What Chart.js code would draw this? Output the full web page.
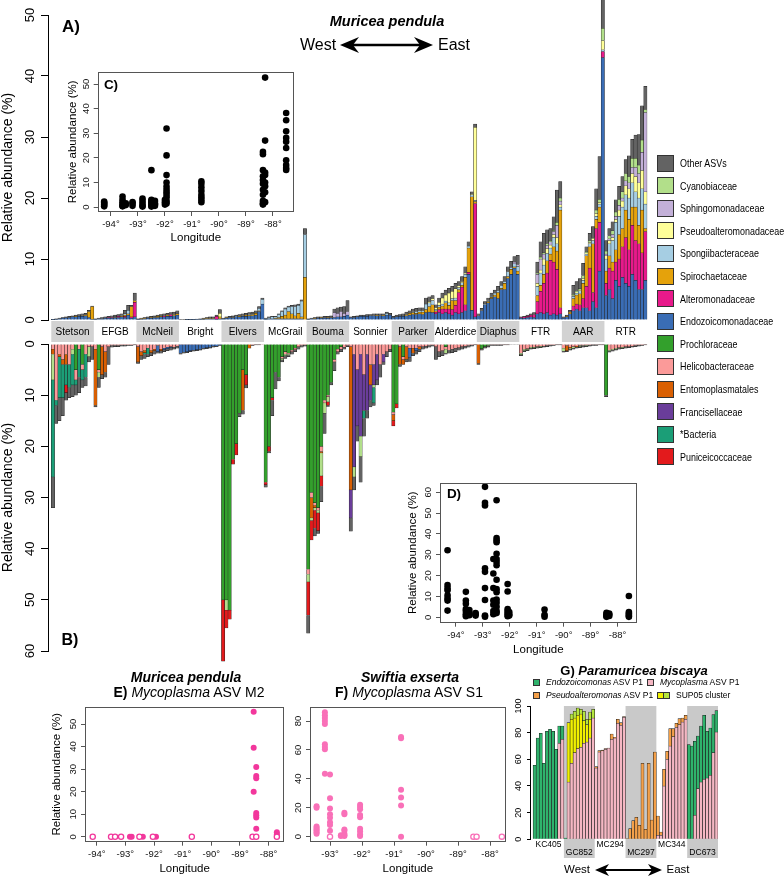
<!DOCTYPE html>
<html>
<head>
<meta charset="utf-8">
<script src="https://cdn.jsdelivr.net/npm/chart.js@4.4.1/dist/chart.umd.min.js"></script>
<style>
  body { margin: 0; background: #fff; font-family: "Liberation Sans", Arial, sans-serif; }
  #wrap { position: relative; width: 784px; height: 877px; overflow: hidden; }
  canvas, .t, .sq, svg { position: absolute; }
  .t { white-space: nowrap; color: #000; line-height: 1; transform: translate(-50%, -50%); }
  .l { white-space: nowrap; color: #000; line-height: 1; position: absolute; transform: translateY(-50%); }
  .sq { box-sizing: border-box; border: 1px solid #333; }
</style>
</head>
<body>
<div id="wrap">
  <canvas id="chartA" width="660" height="345" style="left:0;top:0"></canvas>
  <canvas id="chartB" width="660" height="340" style="left:0;top:332px"></canvas>
  <canvas id="chartC" width="234" height="180" style="left:66px;top:65px"></canvas>
  <canvas id="chartD" width="236" height="182" style="left:406px;top:476px"></canvas>
  <canvas id="chartE" width="240" height="177" style="left:50px;top:700px"></canvas>
  <canvas id="chartF" width="225" height="177" style="left:285px;top:700px"></canvas>
  <canvas id="chartG" width="230" height="187" style="left:500px;top:690px"></canvas>

  <div class="t" style="left:71px;top:26px;font-size:17px;font-weight:bold">A)</div>
  <div class="t" style="left:387px;top:21px;font-size:14.5px;font-weight:bold;font-style:italic">Muricea pendula</div>
  <div class="t" style="left:318px;top:45px;font-size:16px">West</div>
  <div class="t" style="left:454px;top:45px;font-size:16px">East</div>
  <div class="t" style="left:70px;top:640px;font-size:16px;font-weight:bold">B)</div>
  <div class="t" style="left:111px;top:85px;font-size:13.5px;font-weight:bold">C)</div>
  <div class="t" style="left:454px;top:494px;font-size:13.5px;font-weight:bold">D)</div>

  <div class="t" style="left:186px;top:677px;font-size:14px;font-weight:bold;font-style:italic">Muricea pendula</div>
  <div class="t" style="left:189px;top:692px;font-size:14px"><b>E)</b> <i>Mycoplasma</i> ASV M2</div>
  <div class="t" style="left:410px;top:677px;font-size:14px;font-weight:bold;font-style:italic">Swiftia exserta</div>
  <div class="t" style="left:409px;top:692px;font-size:14px"><b>F)</b> <i>Mycoplasma</i> ASV S1</div>

  <div class="t" style="left:634px;top:670px;font-size:13px;font-weight:bold">G) <i>Paramuricea biscaya</i></div>
  <div class="t" style="left:577px;top:870px;font-size:11.5px">West</div>
  <div class="t" style="left:678px;top:870px;font-size:11.5px">East</div>
  <div id="gLegend"></div>
  <div id="legend"></div>

  <svg width="784" height="877" style="left:0;top:0;pointer-events:none">
    <line x1="352" y1="45" x2="421" y2="45" stroke="#000" stroke-width="2.5"/>
    <path d="M340,45 L359,37 L353,45 L359,53 Z" fill="#000"/>
    <path d="M433,45 L414,37 L420,45 L414,53 Z" fill="#000"/>
    <line x1="603" y1="870" x2="654" y2="870" stroke="#000" stroke-width="2"/>
    <path d="M595,870 L609,864 L605,870 L609,876 Z" fill="#000"/>
    <path d="M662,870 L648,864 L652,870 L648,876 Z" fill="#000"/>
  </svg>
</div>

<script>
// ---------- main panels A / B ----------
const sites = ['Stetson', 'EFGB', 'McNeil', 'Bright', 'Elvers', 'McGrail', 'Bouma', 'Sonnier', 'Parker', 'Alderdice', 'Diaphus', 'FTR', 'AAR', 'RTR'];
const samplesPerSite = 13;
const topTicks = [0, 10, 20, 30, 40, 50];
const bottomTicks = [0, 10, 20, 30, 40, 50, 60];

// panel A (above the site band), one row per site
const topEndo = [
  [0.05,0.1,0.2,0.3,0.35,0.4,0.5,0.5,0.6,0.6,0.7,0.4,0.1],
  [0.1,0.2,0.2,0.3,0.3,0.3,0.4,0.4,0.5,0.4,0.8,0.3,0.5],
  [0.1,0.15,0.2,0.3,0.3,0.4,0.4,0.5,0.5,0.6,0.6,0.7,0.8],
  [0,0,0.05,0.05,0.05,0.1,0.1,0.1,0.2,0.2,0.2,0.1,0.2],
  [0.2,0.3,0.4,0.4,0.5,0.5,0.6,0.6,0.7,0.7,0.8,1.4,2.6],
  [0.1,0.2,0.2,0.2,0.2,0.2,0.2,0.2,0.2,0.2,0.2,0.2,0],
  [0.1,0.2,0.2,0.3,0.3,0.3,0.3,0.4,0.4,0.5,0.5,0.6,0.8],
  [0.4,0.4,0.5,0.6,0.6,0.6,0.7,0.7,0.7,0.7,0.7,0.8,0.8],
  [0.4,0.5,0.6,0.6,0.7,0.8,0.9,0.9,1.0,0.9,1.2,1.3,1.2],
  [1.0,1.2,1.0,1.2,1.0,0.8,1.2,1.0,1.2,1.5,7.5,1.6,0.5],
  [0.7,1.5,2.5,2.8,3.5,3.8,3.5,5.0,5.0,6.8,7.5,8.5,7.5],
  [0.3,0.3,0.4,0.5,0.4,1.0,1.2,1.0,1.2,0.8,1.0,0.8,1.0],
  [0.3,0.5,1.0,1.5,1.8,1.5,2.0,2.0,1.5,3.0,2.0,8.0,43.0],
  [4.0,5.0,3.5,6.5,5.5,7.0,6.0,5.5,7.5,6.5,5.0,5.0,6.5]
];
const topAltero = [
  [0,0,0,0,0,0,0,0,0,0,0,0,0],
  [0,0,0,0,0.1,0.1,0,0.2,0,0.2,0,0.2,2.4],
  [0,0,0,0,0,0,0,0,0.2,0,0.3,0,0],
  [0,0,0,0,0,0,0,0,0,0,0,0.5,0],
  [0,0,0,0,0,0,0,0,0,0,0,0,0],
  [0,0,0,0,0,0,0,0,0,0,0,0,0],
  [0,0,0,0,0,0,0,0,0,0,0,0,0],
  [0,0,0,0,0,0,0,0,0,0,0,0,0],
  [0,0,0,0,0,0,0,0,0,0,0,0,0],
  [0.3,0.5,0.8,0.6,0.8,0.9,1.2,3.5,4.2,1.0,0.3,0,18.6],
  [0,0,0,0,0,0,0,0,0,0,0,0,0],
  [0.1,0.2,0.2,0.3,0.5,2.0,3.5,5.0,6.5,9.0,8.5,7.5,1.0],
  [0,0,0,0.8,0.8,1.0,1.5,3.5,7.0,1.5,13.0,8.0,1.0],
  [2.0,3.5,4.5,3.0,4.5,5.0,7.5,6.0,8.0,6.5,7.5,6.0,8.0]
];
const topSpiro = [
  [0,0,0,0,0,0,0,0.1,0,0.1,0.1,1.0,2.1],
  [0,0,0,0,0,0,0.1,0,0.1,0.2,0.2,1.7,0.3],
  [0,0.05,0.1,0,0.1,0.1,0.2,0.1,0,0.2,0,0.2,0.2],
  [0,0,0,0,0,0,0,0.1,0.1,0.1,0.1,0,0.3],
  [0,0.1,0,0.1,0,0.1,0.1,0.2,0.1,0.2,0.3,0.1,0],
  [0,0,0,0.1,0.2,0.4,0.6,1.2,0.8,0.5,0.9,0.3,7.0],
  [0,0,0.1,0,0.1,0,0.1,0.1,0,0,0,0,0],
  [0,0,0,0,0,0,0,0,0.1,0,0.1,0,0],
  [0,0,0,0,0.2,0.3,0.3,0.2,0.3,0.4,0.5,0.9,1.3],
  [0.2,0.4,0.5,1.0,0.6,1.5,0.8,0.5,0.3,4.5,4.0,18.6,0.3],
  [0,0,0,0.2,0.2,0.3,1.0,0.2,1.0,0.3,0.8,0.2,0.5],
  [0,0,0,0,0,1.0,1.0,1.5,2.0,1.0,2.5,3.0,16.0],
  [0,0.1,0.3,1.2,1.5,1.8,2.5,5.0,3.5,8.0,1.5,2.5,0],
  [2.0,2.0,1.5,2.0,4.0,3.0,4.5,5.0,3.0,5.5,3.0,7.0,0.5]
];
const topSpong = [
  [0,0,0,0,0,0,0,0,0,0,0,0,0],
  [0,0,0,0,0,0,0,0,0.1,0.2,0.6,0,0],
  [0,0,0,0,0,0,0,0,0,0,0,0,0],
  [0,0,0,0,0,0,0,0,0,0,0,0,0],
  [0,0,0,0,0.1,0,0,0,0.1,0.1,0.1,0.4,0.8],
  [0.1,0.2,0.3,0.2,0.5,0.8,1.0,0.7,1.2,1.5,1.3,2.6,7.0],
  [0,0,0,0,0,0,0,0,0,0,0,0,0],
  [0,0,0,0,0,0,0,0,0,0,0,0.3,0],
  [0,0,0,0,0,0,0.2,0.3,0.2,0.2,0.9,0.6,0.7],
  [0.2,0.3,0.3,0.3,0.4,0.3,0.4,0.3,0.4,0.5,0.3,0.3,0.2],
  [0,0,0.1,0.2,0.2,0.3,0.3,0.5,0.3,0.8,0.3,0.5,0.8],
  [0,0,0,0,0,1.5,2.0,1.5,1.2,1.0,1.5,1.2,0.5],
  [0,0,0,0.4,0.3,0.5,0.5,0.3,0.5,0.5,0.5,0.5,0.3],
  [2.0,2.0,3.5,4.5,3.0,3.5,2.5,3.5,4.0,2.5,4.5,3.5,4.0]
];
const topPseudo = [
  [0,0,0,0,0,0,0,0,0,0,0,0,0],
  [0,0,0,0,0,0,0,0,0,0,0,0,0],
  [0,0,0,0,0,0,0,0,0,0,0,0,0],
  [0,0,0,0,0,0,0,0,0,0,0,0,0.6],
  [0,0,0,0,0,0,0,0,0,0,0,0,0],
  [0,0,0,0,0,0,0,0,0,0,0,0,0],
  [0,0,0,0,0,0,0,0,0,0,0,0,0],
  [0,0,0,0,0,0,0,0,0,0,0,0,0],
  [0,0,0,0,0,0,0,0,0,0,0,0.2,0.3],
  [0.3,0.5,1.0,1.0,1.6,1.2,1.5,0.3,0.2,0.2,0,0.1,12.0],
  [0,0,0,0,0,0,0,0,0,0,0,0,0],
  [0,0,0,0,0,0.5,0.5,1.0,0.8,0.5,0.5,1.0,0.4],
  [0,0,0,0.1,0.2,0.1,0.3,0.2,0.2,0.3,0.5,0.3,1.5],
  [0.5,0.5,0.5,0.5,1.0,1.0,1.5,1.5,1.5,2.5,2.5,3.0,2.0]
];
const topSphingo = [
  [0,0,0,0,0,0,0,0,0,0,0,0,0],
  [0,0,0,0,0,0,0,0,0,0,0,0,0],
  [0,0,0,0,0,0,0,0,0,0,0,0,0],
  [0,0,0,0,0,0,0,0,0,0,0,0,0],
  [0,0,0,0,0,0,0,0,0,0,0,0,0],
  [0,0,0,0,0,0,0,0,0,0,0,0,0],
  [0,0,0,0,0,0,0,0,0.8,0.6,0.9,0.5,0.6],
  [0,0,0,0,0,0,0,0,0,0,0,0,0],
  [0,0,0,0,0,0,0,0,0,0,0,0,0],
  [0,0,0,0,0,0,0,0,0,0,0,0,0],
  [0,0,0,0,0,0,0,0,0,0,0,0.3,0.3],
  [0,0,0,0,0,1.5,1.8,0.8,0.5,0.5,0.5,2.0,0.6],
  [0,0,0,0,0,0,0,0,0,0,0,0,0],
  [0.3,0.3,0.5,0.5,0.8,0.5,0.8,1.0,1.0,1.5,1.5,3.0,13.0]
];
const topCyano = [
  [0,0,0,0,0,0,0,0,0,0,0,0,0],
  [0,0,0,0,0,0,0,0,0,0,0,0,0],
  [0,0,0,0,0,0,0,0,0,0,0,0,0],
  [0,0,0,0,0,0,0,0,0,0,0,0,0],
  [0,0,0,0,0,0,0,0,0,0,0,0,0],
  [0,0,0,0,0,0,0,0,0,0,0,0,0],
  [0,0,0,0,0,0,0,0,0,0,0,0,0],
  [0,0,0,0,0,0,0,0,0,0,0,0,0],
  [0,0,0,0,0,0,0,0,0,0,0,0,0],
  [0,0,0,0,0,0,0,0,0,0,0,0,0],
  [0,0,0,0,0,0,0,0,0,0,0,0,0],
  [0,0,0,0,0,0.2,0.3,0.2,0.3,0.2,0.2,0.5,0.5],
  [0,0,0,0.2,0.2,0.2,0.5,0.2,0.3,0.2,0.5,0.5,2.0],
  [0.5,0.5,0.6,0.7,1.0,1.0,1.2,1.0,1.5,1.5,1.4,2.0,0.5]
];
const topOther = [
  [0.05,0.1,0.1,0.1,0.15,0.2,0.2,0.2,0.3,0.3,0.3,0.2,0.1],
  [0.1,0.1,0.2,0.2,0.2,0.3,0.3,0.3,0.3,0.6,0.8,0.2,1.2],
  [0.1,0.1,0.1,0.2,0.2,0.2,0.2,0.3,0.3,0.3,0.3,0.4,0.5],
  [0.05,0.05,0.05,0.05,0.05,0.05,0.1,0.1,0.1,0.2,0.2,0.2,0.6],
  [0.1,0.1,0.2,0.2,0.2,0.3,0.3,0.3,0.3,0.3,0.3,0.3,0.2],
  [0.1,0.1,0.1,0.1,0.1,0.1,0.2,0.2,0.2,0.3,0.2,0.2,1.0],
  [0.1,0.1,0.1,0.2,0.1,0.3,0.2,0.2,0.6,0.9,0.7,1.1,1.8],
  [0.1,0.2,0.2,0.2,0.2,0.3,0.2,0.3,0.2,0.3,0.2,0.2,0.3],
  [0.2,0.3,0.3,0.4,0.4,0.4,0.4,0.5,0.5,0.5,1.0,0.8,0.5],
  [0.5,0.7,0.8,0.8,0.8,0.8,0.9,0.7,0.8,1.0,0.7,0.4,0.5],
  [0.3,0.4,0.4,0.4,0.5,0.5,0.7,0.6,0.8,0.8,1.0,0.9,1.5],
  [0.1,0.1,0.2,0.2,0.3,1.8,2.5,3.2,2.3,2.0,2.2,5.3,2.7],
  [0.2,0.2,0.3,1.5,1.5,1.7,2.0,0.8,1.2,1.8,3.5,7.0,5.2],
  [1.7,1.2,1.5,2.0,2.1,2.5,2.3,3.4,3.1,3.8,5.0,5.6,3.8]
];

// panel B (below the site band), one row per site
const botProchlor = [
  [0,0,0,0,0,0,0,5,0,4,0,0,0],
  [0,5,0,0,0,0,0,0,0,0,0,0,0],
  [0,0,0,0,0,0,0,0,0,0,0,0,0],
  [0,0,0,0,0,0,0,0,0,0,0,0,0],
  [50,50,52,22.5,19.5,13.5,5,6,0,0,0,0,0],
  [27,20,10.5,5.5,6.5,2.5,1.5,1.8,1.2,0.8,0,0,0],
  [44,29,31,32,20,11,10,7.5,3,1,0.5,0,0],
  [0,0,0,0,0,0,0,0,0,0,0,0,0],
  [13.3,11.7,0,2.5,0,0,0,0,0,0,0,0,0],
  [0,0,0,0.5,0,0,0,0,0,0,0,0,0],
  [0,0.9,0.5,0.3,0,0,0,0,0,0,0,0,0],
  [0,0,0,0,0,0,0,0,0,0,0,0,0],
  [0,0,0,0,0,0,0,0,0,0,0,0,0],
  [10,0,0,0,0,0,0,0,0,0,0,0,0]
];
const botHelico = [
  [1,11,2,3,2,4,1,2,1,1,2,0.5,0.5],
  [1,0.5,0.5,1.5,0.5,0.3,0.3,0.3,0.2,0.2,0.2,0.2,0.1],
  [0.5,1.5,1.2,0.8,1.2,1.0,0.3,1.0,0.8,0.6,0.5,0.6,0.4],
  [0.1,0.1,0.1,0.1,0.1,0.1,0.1,0,0,0,0,0,0],
  [0,0,0,0,0,0,0,0,0,0.2,0.1,0.1,0.1],
  [0,0,0,0,0,0.3,0.5,0.2,0.3,0.3,0.5,0.3,0.2],
  [1,1,0.5,0.5,1,0.5,0.3,0,0.5,0.5,0.5,0.6,0.3],
  [0.5,2,5,2,6,2,4,4,2,4,2,1.5,1],
  [0.5,0,0.5,0.5,0.5,0.8,0.8,0.8,0.5,0.5,0.4,0.3,0.2],
  [0.5,1.5,1.3,0.5,1.2,1.0,0.8,0.7,0.5,0.4,0.3,0.2,0.1],
  [0.1,0.1,0.1,0.1,0.1,0.1,0.1,0.1,0.1,0.1,0,0,0],
  [1.8,1,0.9,0.6,0.6,0.5,0.4,0.4,0.3,0.2,0.2,0.1,0.1],
  [0.8,0.3,0.6,0.5,0.4,0.3,0.3,0.2,0.2,0.1,0.1,0.1,0.1],
  [0,1.2,1.0,0.8,0.7,0.6,0.5,0.5,0.4,0.3,0.2,0.2,0.1]
];
const botEndo = [
  [0,0,0,0,0,0,0,0,0,0,0,0,0],
  [0,0,0,0,0,0,0,0,0,0,0,0,0],
  [0,0,0,0,0,0,1.2,0,0.3,0.3,0.2,0,0],
  [1.7,1.5,1.4,1.2,1.1,1.0,0.9,0.8,0.7,0.6,0.4,0.4,0.2],
  [0,0,0,0,0,0,0,0,0,0,0,0,0],
  [0,0,0,0,0,0,0,0,0,0,0,0,0],
  [0,0,0,0,0,0,0,0,0,0,0,0,0],
  [0,0,0,0,0,0,0,0,0,0,0,0,0],
  [0,0,0,0,0,1.8,0,0.5,0,0,0,0,0],
  [0,0,0,0,0,0,0,0,0,0,0,0,0],
  [0,0,0,0,0,0,0,0,0,0,0,0,0],
  [0,0,0,0,0,0,0,0,0,0,0,0,0],
  [0,0,0,0,0,0,0,0,0,0,0,0,0],
  [0,0,0,0,0,0,0,0,0,0,0,0,0]
];
const botEnto = [
  [1,0,0.5,1,2,0,0,0,0,0,0,0,0],
  [11,0,5.5,4,0,0,0,0,0,0,0,0,0],
  [3,0.8,0.5,0,0.5,0.3,0,0.3,0,0,0,0,0],
  [0,0,0,0,0,0,0,0,0,0,0,0,0],
  [0,0,0,0,0,0,8,0,0.8,0,0,0,0],
  [0,0,0,0,0,0,0,0,0,0,0,0,0],
  [0,4,0.5,0,0.3,0,0,0,0,0,0,0,0],
  [28,0,0,0,0,0,4,0,0,0,0,0,0],
  [1.2,0,3.5,1,2.5,0,1,0,0.5,0,0,0,0],
  [0,0,0,0,0,0,0,0,0,0,0,0,0],
  [3.7,0,0,0,0,0,0,0,0,0,0,0,0],
  [0,0,0,0,0,0,0,0,0,0,0,0,0],
  [0,1,0.2,0,0.2,0,0,0,0,0,0,0,0],
  [0,0,0,0,0,0,0,0,0,0,0,0,0]
];
const botFranc = [
  [0,0,0,0,0,0,0,0,0,0,0,0,0],
  [0,0,0,0,0,0,0,0,0,0,0,0,0],
  [0,0,0,0,0,0,0,0,0,0,0,0,0],
  [0,0,0,0,0,0,0,0,0,0,0,0,0],
  [0,0,0,0,0,0,0,0,0,0,0,0,0],
  [0,0,0,0,0,0,0,0,0,0,0,0,0],
  [0,0,0,0,0,0,0,0,0,0,0,0,0],
  [5.5,22,11,16,7,11,3,4,5,0,1.5,0,0],
  [0,0,0,0,0,0,0,0,0,0,0,0,0],
  [0,0,0,0,0,0,0,0,0,0,0,0,0],
  [0,0,0,0,0,0,0,0,0,0,0,0,0],
  [0,0,0,0,0,0,0,0,0,0,0,0,0],
  [0,0,0,0,0,0,0,0,0,0,0,0,0],
  [0,0,0,0,0,0,0,0,0,0,0,0,0]
];
const botCyano = [
  [5,0,0,0,0,0,1,0,0,0,0,2,0],
  [0,1,0,0,0,0,0,0,0,0,0,0,0],
  [0,0,0,0,0,0,0,0,0,0,0,0,0],
  [0,0,0,0,0,0,0,0,0,0,0,0,0],
  [0,2,0,0,0,0,0,0,0,0,0,0,0],
  [0,0,0,0,0,0.3,0.3,0.2,0,0,0,0,0],
  [1.5,0.5,0.5,0.5,4.5,2,1,0,0,0,0,0,0],
  [0,2,0,4,0,0,0,0.5,0,0,0,0,0],
  [0,0,0,0,0,0,0,0,0,0,0,0,0],
  [0,0,0,0.8,0,0,0,0,0,0,0,0,0],
  [0,0,0,0,0,0,0,0,0,0,0,0,0],
  [0.3,0.3,0.2,0.2,0.1,0.1,0.1,0,0,0,0,0,0],
  [0.6,0,0.2,0.3,0,0.2,0.1,0.1,0,0,0,0,0],
  [0,0.2,0.2,0.2,0.1,0.1,0.1,0,0,0,0,0,0]
];
const botBact = [
  [19,1,8,6.5,4,4.5,6,1,5.5,2,4.5,0,0],
  [0,0,0,0,0,0,0,0,0,0,0,0,0],
  [0,0,0.3,1.2,0,0,0,0,0,0,0,0,0],
  [0,0,0,0,0,0,0,0,0,0,0,0,0],
  [0,0,0,0,0,0,0,0,0,0,0,0,0],
  [0,0,0,0,0,0,0,0,0,0,0,0,0],
  [0,0,0,0,0,0,0,0,0,0,0,0,0],
  [0,0,0,0,1.5,0,0,3,0,0,0,0,0],
  [0,0,0,0,0,0,0,0,0,0,0,0,0],
  [0,0,0,0,0,0,0,0,0,0,0,0,0],
  [0,0,0,0,0,0,0,0,0,0,0,0,0],
  [0,0,0,0,0,0,0,0,0,0,0,0,0],
  [0,0,0,0,0,0,0,0,0,0,0,0,0],
  [0,0,0,0,0,0,0,0,0,0,0,0,0]
];
const botPunic = [
  [0,0,0,0,1.5,0,0,0,0,0,0,0,0],
  [0,0,0,0,0,0,0,0,0,0,0,0,0],
  [0,0,0,0,0,0,0,0,0,0,0,0,0],
  [0,0,0,0,0,0,0,0,0,0,0,0,0],
  [12,3.5,1.8,1,2.2,0,0,2,0,0,0,0,0],
  [0.5,1,0.5,0,0,0,0,0,0,0,0,0,0],
  [6.5,3.8,3.5,3.5,2,0,0.7,0,0,0,0,0,0],
  [0,0,0,0,0,0,0,0,0,0,0,0,0],
  [1,0.8,0,0,0,0,0,0,0,0,0,0,0],
  [0,0,0,0,0,0,0,0,0,0,0,0,0],
  [0,0,0,0,0,0,0,0,0,0,0,0,0],
  [0,0,0,0,0,0,0,0,0,0,0,0,0],
  [0,0,0,0,0,0,0,0,0,0,0,0,0],
  [0,0,0,0,0,0,0,0,0,0,0,0,0]
];
const botOther = [
  [6,3.5,4.5,3.5,1.5,2,2.3,2,3,1.5,1.7,1,2.5],
  [0.3,2,0.8,1,3.5,0.3,0.2,0.2,0.2,0.2,0.1,0.1,0.1],
  [0.3,0.7,0.8,0.5,0.6,0.7,0.3,0.5,0.4,0.4,0.5,0.4,0.4],
  [0.2,0.2,0.2,0.2,0.2,0.2,0.2,0.2,0.2,0.2,0.2,0.1,0.1],
  [0,0,0,0,0,0.7,0.7,0.6,0,0.1,0.1,0.1,0],
  [0.5,0.3,3,3.3,0.7,0.4,0.5,0.3,0.5,0.4,0.5,0.3,0.2],
  [3.5,0,1.5,0.5,3,4,0.2,0.5,1.7,0.5,0.5,0.4,0.2],
  [2.6,2.5,3,5,3.5,1.5,1.3,0.5,1,2.5,0.5,1,0.5],
  [0,0,0.4,0,0.5,0.8,0.5,0.7,0.5,0.5,0.4,0.3,0.2],
  [2.5,1,1,0.2,0.6,0.7,0.7,0.5,0.5,0.4,0.3,0.2,0.1],
  [0.2,0.2,0.2,0.2,0.2,0.2,0.2,0.2,0.1,0.1,0.1,0.1,0.1],
  [0.2,0.2,0.2,0.2,0.2,0.2,0.2,0.2,0.2,0.2,0.1,0.1,0.1],
  [0.2,0.2,0.2,0.2,0.2,0.2,0.2,0.2,0.2,0.2,0.2,0.1,0.1],
  [0.3,0.2,0.2,0.2,0.2,0.2,0.2,0.2,0.2,0.2,0.2,0.1,0.1]
];

const familyColors = {
  'Other ASVs': '#636363', 'Cyanobiaceae': '#b2df8a', 'Sphingomonadaceae': '#c3b0d8',
  'Pseudoalteromonadaceae': '#ffff99', 'Spongiibacteraceae': '#a6cee3', 'Spirochaetaceae': '#e5a20b',
  'Alteromonadaceae': '#e8198b', 'Endozoicomonadaceae': '#3a6db5', 'Prochloraceae': '#33a02c',
  'Helicobacteraceae': '#fb9a99', 'Entomoplasmatales': '#d95f02', 'Francisellaceae': '#6a3d9a',
  '*Bacteria': '#1b9e77', 'Puniceicoccaceae': '#e31a1c'
};
const legendOrder = ['Other ASVs', 'Cyanobiaceae', 'Sphingomonadaceae', 'Pseudoalteromonadaceae', 'Spongiibacteraceae',
  'Spirochaetaceae', 'Alteromonadaceae', 'Endozoicomonadaceae', 'Prochloraceae', 'Helicobacteraceae',
  'Entomoplasmatales', 'Francisellaceae', '*Bacteria', 'Puniceicoccaceae'];

const topNames = ['Endozoicomonadaceae', 'Alteromonadaceae', 'Spirochaetaceae', 'Spongiibacteraceae', 'Pseudoalteromonadaceae', 'Sphingomonadaceae', 'Cyanobiaceae', 'Other ASVs'];
const topSeries = [topEndo, topAltero, topSpiro, topSpong, topPseudo, topSphingo, topCyano, topOther];
const botNames = ['Prochloraceae', 'Helicobacteraceae', 'Endozoicomonadaceae', 'Entomoplasmatales', 'Francisellaceae', 'Cyanobiaceae', '*Bacteria', 'Puniceicoccaceae', 'Other ASVs'];
const botSeries = [botProchlor, botHelico, botEndo, botEnto, botFranc, botCyano, botBact, botPunic, botOther];

// ---------- insets C / D (longitude columns and values) ----------
const lonTicks = [-94, -93, -92, -91, -90, -89, -88];
const cLon = [-94.25, -93.57, -93.45, -93.2, -92.83, -92.5, -92.37, -92.0, -91.94, -90.65, -88.37, -88.29, -87.51];
const cVals = [
  [0.3, 0.8, 1.3, 1.8, 2.2], [4.3, 3, 2, 1.2, 0.5, 0.3], [1.5, 0.8], [2.0, 1.5, 0.5], [3.5, 2.5, 1.5, 0.5, 0.2],
  [15, 3, 2.5, 2, 1.5, 1, 0.5, 0.2], [2.5, 1.5, 1, 0.5], [3, 2, 1],
  [31.9, 21, 13, 10, 8.3, 7, 6, 5, 4, 2.5, 1.5], [10.5, 9.5, 8, 6.5, 5, 4, 3, 2],
  [22.5, 21.5, 15, 12.5, 11, 9.5, 7, 5, 2.5, 1.5, 1], [52.6, 27, 14, 13, 10, 8.5, 6, 2],
  [38.2, 35.3, 30.8, 28.1, 26.5, 24.0, 19.0, 17.1, 15.9, 15.1]
];
const cYTicks = [0, 10, 20, 30, 40, 50];
const dLon = [-94.31, -93.63, -93.5, -93.27, -92.92, -92.61, -92.49, -92.08, -92.02, -90.71, -88.41, -88.31, -87.58];
const dVals = [
  [32.2, 15.5, 14, 13, 10.5, 9, 8, 3.2], [12.2, 8, 6.5, 4, 3, 1.5, 0.5], [3.5, 2, 1], [2, 1.5, 0.8],
  [62.6, 55, 53.7, 23.5, 21.8, 14, 8.3, 0.8, 0.3], [28, 21, 14, 8, 6, 3, 1.5],
  [56.2, 38, 37, 36, 30.5, 28, 26.5, 25, 18, 13.5, 12, 8.5, 7, 5, 3, 2],
  [16, 12.4, 4, 3, 2, 1.2, 0.5], [2.5, 1.5, 0.8], [3.7, 1.2, 0.3], [2.2, 1.5, 1.0, 0.5, 0.2],
  [1.8, 1.2, 0.6], [10.2, 2.5, 1.8, 1.2, 0.6, 0.2]
];
const dYTicks = [0, 10, 20, 30, 40, 50, 60];

// ---------- panels E / F ----------
const eLon = [-92.84, -92.78, -92.39, -91.93, -88.52, -88.43, -87.71];
const eVals = [[0], [0], [0], [0], [55.5, 39.5, 20], [31, 27, 26, 10.5, 9.5, 8.5, 3.5], [2, 1]];
const eAbsentLon = [-94.14, -93.5, -93.36, -93.15, -92.51, -92.04, -90.68, -88.56, -88.43, -87.71];
const eYTicks = [0, 10, 20, 30, 40, 50];
const fLon = [-93.42, -93.16, -93.0, -92.66, -92.55, -92.06, -90.78];
const fVals = [
  [21, 20, 7, 6, 5, 4, 3, 2], [86, 84, 82, 80, 78, 64, 62, 60.5, 43.5], [43, 26.5, 19.5, 15.5, 13, 10, 8, 4],
  [1, 0.5], [16.5, 15.5, 5, 4, 2, 1, 0.5], [22, 20.5, 19, 15, 13.5, 5.5, 3.5, 1.5, 0.5],
  [69, 68, 32.5, 27, 21.5, 0]
];
const fAbsentLon = [-93.0, -88.52, -88.42, -87.63];
const fXTicks = [-93, -92, -91, -90, -89, -88];
const fYTicks = [0, 20, 40, 60, 80];

// ---------- panel G ----------
const gSites = ['KC405', 'GC852', 'MC294', 'MC297', 'MC344', 'DC673'];
const gPerSite = 10;
const gMyco = [
  [0,0,0,0,0,0,0,0,72,75],
  [0,43,57,65,68,69,72,73,76,91],
  [53.5,65.5,66.5,67.5,68.5,75,76,87,85.5,91.5],
  [0,0,0,0,0,0,0,0,0,0],
  [3,3,40,60,70,77,84,86,88,90],
  [0,0,18,38,43,45,46,48,65,80.5]
];
const gPseudo = [
  [0,0,0,0,0,0,0,0,0,0],
  [0,0,0,0,0,0,0,0,0,0],
  [1,1,0.5,0.5,0,4,0.5,3,2,0.5],
  [0.5,8,14,16.5,10.5,57,7.5,57,14.5,65.5],
  [14.5,2.5,12.5,6,13,6,3,4.5,3,3],
  [0,0,0,0,0,0,0,0,0,0]
];
const gEndo = [
  [55.5,76,79.5,57,81,82.5,81,67.5,13,10],
  [1,0,0,0,0,0,0,0,0,0],
  [0,0,0,0,0,0,0,0,0,0],
  [0,0,0,0,0,0,0,0,0,0],
  [0,0,0,0,0,0,0,0,0,0],
  [71,70,55.5,39.5,42,48,35,35.5,28.5,16]
];
const gSupYellow = [
  [0,0,0,0,0,0,0,0,0,0],
  [0,44.5,33,26,25,25,17,13,14,0],
  [0,0,0,0,0,0,0,0,0,0],
  [0,0,0,0,0,0,0,0,0,0],
  [0,0,0,0,0,0,0,0,0,0],
  [0,0,0,0,0,0,0,0,0,0]
];
const gSupGreen = [
  [0,0,0,0,0,0,0,0,0,0],
  [0,0,4,5,5.5,3.5,7,4,5.5,6.5],
  [0,0,0,0,0,0,0,0,0,0],
  [0,0,0,0,0,0,0,0,0,0],
  [0,0,0,0,0,0,0,0,0,0],
  [0,0,0,0,0,0,0,0,0,0]
];
const gYTicks = [0, 20, 40, 60, 80, 100];
const gColors = { endo: '#2fb36c', myco: '#f5b7c3', pseudo: '#f4a049', supYellow: '#f0f000', supGreen: '#b6e63e' };

// ---------- helpers ----------
Chart.defaults.font.family = '"Liberation Sans", Arial, sans-serif';
Chart.defaults.color = '#000';
Chart.defaults.animation = false;
Chart.defaults.events = [];
Chart.defaults.plugins.legend.display = false;
Chart.defaults.plugins.tooltip.enabled = false;

function fixWidth(w) {
  return s => { s.width = w; s.paddingTop = s.paddingBottom = s.paddingLeft = s.paddingRight = 0; };
}
function fixHeight(h) {
  return s => { s.height = h; s.paddingTop = s.paddingBottom = s.paddingLeft = s.paddingRight = 0; };
}
function useTicks(vals) {
  return s => { s.ticks = vals.map(v => ({ value: v })); };
}
function withBlank(rows) {
  return [null].concat(...rows);
}
function slotLabels(names, n) {
  return [''].concat(...names.map(s => Array.from({ length: n }, (_, i) => s + ' ' + (i + 1))));
}
function toPoints(lons, vals) {
  return lons.flatMap((x, i) => vals[i].map(y => ({ x, y })));
}

const frame = {
  id: 'frame',
  afterDraw(chart, args, opts) {
    const { left, top, right, bottom } = chart.chartArea;
    const ctx = chart.ctx;
    ctx.save();
    ctx.strokeStyle = opts.color || '#555';
    ctx.lineWidth = 1;
    ctx.strokeRect(Math.round(left) + 0.5, Math.round(top) + 0.5, Math.round(right - left) - 1, Math.round(bottom - top) - 1);
    ctx.restore();
  }
};

// grey / white site band drawn from the category scale
const siteBand = {
  id: 'siteBand',
  afterDraw(chart, args, opts) {
    const x = chart.scales.x, ctx = chart.ctx;
    const w = x.getPixelForValue(2) - x.getPixelForValue(1);
    ctx.save();
    sites.forEach((s, i) => {
      const x0 = x.getPixelForValue(1 + i * samplesPerSite) - w / 2;
      const x1 = x.getPixelForValue((i + 1) * samplesPerSite) + w / 2;
      if (i % 2 === 0) {
        ctx.fillStyle = '#d2d2d2';
        ctx.fillRect(x0, opts.top, x1 - x0, opts.height);
      }
      ctx.fillStyle = '#000';
      ctx.font = '10px "Liberation Sans", Arial, sans-serif';
      ctx.textAlign = 'center';
      ctx.textBaseline = 'middle';
      ctx.fillText(s, (x0 + x1) / 2, opts.top + opts.height / 2 + 0.5);
    });
    ctx.restore();
  }
};

function barSets(names, series) {
  return names.map((n, i) => ({
    label: n,
    data: withBlank(series[i]),
    backgroundColor: familyColors[n],
    borderColor: '#1c1c1c',
    borderWidth: 0.5,
    barPercentage: 1,
    categoryPercentage: 1,
    clip: false
  }));
}

function mainY(max, ticks, reverse) {
  return {
    stacked: true, min: 0, max: max, reverse: reverse,
    afterBuildTicks: useTicks(ticks),
    afterFit: fixWidth(48),
    border: { display: true, color: '#000', width: 1 },
    grid: { drawOnChartArea: false, color: '#000', tickLength: 7 },
    ticks: { font: { size: 13 }, color: '#000', minRotation: 90, maxRotation: 90, crossAlign: 'center', padding: 3, autoSkip: false },
    title: { display: true, text: 'Relative abundance (%)', font: { size: 14 }, color: '#000', padding: 0 }
  };
}

const mainLabels = slotLabels(sites, samplesPerSite);

new Chart(document.getElementById('chartA'), {
  type: 'bar',
  data: { labels: mainLabels, datasets: barSets(topNames, topSeries) },
  options: {
    responsive: false,
    layout: { padding: { left: 0, top: 15, right: 13, bottom: 25 }, autoPadding: false },
    scales: { x: { display: false, stacked: true }, y: mainY(50, topTicks, false) },
    plugins: { siteBand: { top: 321, height: 21 } }
  },
  plugins: [siteBand]
});

new Chart(document.getElementById('chartB'), {
  type: 'bar',
  data: { labels: mainLabels, datasets: barSets(botNames, botSeries) },
  options: {
    responsive: false,
    layout: { padding: { left: 0, top: 12, right: 13, bottom: 21 }, autoPadding: false },
    scales: { x: { display: false, stacked: true }, y: mainY(60, bottomTicks, true) }
  }
});

// ---------- scatter panels ----------
function scatterAxes(o) {
  const tickStyle = { font: { size: 9.5 }, color: '#111', padding: 2, autoSkip: false };
  const grid = { drawOnChartArea: false, color: '#555', tickLength: 4 };
  return {
    x: {
      type: 'linear', min: o.xMin, max: o.xMax,
      afterBuildTicks: useTicks(o.xTicks), afterFit: fixHeight(o.xH),
      border: { display: false }, grid: grid,
      ticks: Object.assign({}, tickStyle, { padding: 3, maxRotation: 0, callback: v => v + '°' }),
      title: { display: true, text: 'Longitude', font: { size: 11.5 }, color: '#000', padding: { top: 0, bottom: o.titlePad } }
    },
    y: {
      type: 'linear', min: o.yMin, max: o.yMax,
      afterBuildTicks: useTicks(o.yTicks), afterFit: fixWidth(o.yW),
      border: { display: false }, grid: grid,
      ticks: Object.assign({}, tickStyle, { minRotation: 90, maxRotation: 90, crossAlign: 'center' }),
      title: { display: o.yTitle, text: 'Relative abundance (%)', font: { size: 11.5 }, color: '#000', padding: 0 }
    }
  };
}

function scatterChart(id, datasets, o) {
  return new Chart(document.getElementById(id), {
    type: 'scatter',
    data: { datasets: datasets },
    options: {
      responsive: false,
      layout: { padding: { left: 0, top: o.padTop, right: o.padRight, bottom: 0 }, autoPadding: false },
      scales: scatterAxes(o),
      plugins: { frame: { color: '#555' } }
    },
    plugins: [frame]
  });
}

const blackDots = { pointRadius: 3.3, pointBackgroundColor: '#000', pointBorderWidth: 0, clip: false };

scatterChart('chartC', [Object.assign({ label: 'C', data: toPoints(cLon, cVals) }, blackDots)], {
  xMin: -94.49, xMax: -87.22, yMin: -2, yMax: 55, xTicks: lonTicks, yTicks: cYTicks,
  xH: 33, yW: 31.7, padTop: 6.7, padRight: 6, titlePad: 0, yTitle: true
});

scatterChart('chartD', [Object.assign({ label: 'D', data: toPoints(dLon, dVals) }, blackDots)], {
  xMin: -94.59, xMax: -87.29, yMin: -2.6, yMax: 64.6, xTicks: lonTicks, yTicks: dYTicks,
  xH: 35.3, yW: 34, padTop: 6.7, padRight: 5.3, titlePad: 1, yTitle: true
});

function pinkSets(lons, vals, absent, color) {
  return [
    { label: 'absent', data: absent.map(x => ({ x, y: 0 })), pointRadius: 2.6, pointBackgroundColor: '#fff', pointBorderColor: color, pointBorderWidth: 1.3, clip: false },
    { label: 'present', data: toPoints(lons, vals), pointRadius: 3, pointBackgroundColor: color, pointBorderWidth: 0, clip: false }
  ];
}

scatterChart('chartE', pinkSets(eLon, eVals, eAbsentLon, '#f2379c'), {
  xMin: -94.41, xMax: -87.45, yMin: -2.2, yMax: 57.7, xTicks: lonTicks, yTicks: eYTicks,
  xH: 35.3, yW: 35, padTop: 6.7, padRight: 5.7, titlePad: 1, yTitle: true
});

scatterChart('chartF', pinkSets(fLon, fVals, fAbsentLon, '#f970b8'), {
  xMin: -93.625, xMax: -87.51, yMin: -3.5, yMax: 89.9, xTicks: fXTicks, yTicks: fYTicks,
  xH: 35.3, yW: 25, padTop: 6.7, padRight: 4.3, titlePad: 1, yTitle: false
});

// ---------- panel G ----------
const gBand = {
  id: 'gBand',
  beforeDatasetsDraw(chart) {
    const x = chart.scales.x, ctx = chart.ctx;
    const w = x.getPixelForValue(2) - x.getPixelForValue(1);
    ctx.save();
    ctx.fillStyle = '#c9c9c9';
    gSites.forEach((s, i) => {
      if (i % 2 === 1) {
        const x0 = x.getPixelForValue(1 + i * gPerSite) - w / 2;
        const x1 = x.getPixelForValue((i + 1) * gPerSite) + w / 2;
        ctx.fillRect(x0, chart.chartArea.top, x1 - x0, 168 - chart.chartArea.top);
      }
    });
    ctx.restore();
  },
  afterDraw(chart) {
    const x = chart.scales.x, ctx = chart.ctx;
    const w = x.getPixelForValue(2) - x.getPixelForValue(1);
    ctx.save();
    ctx.fillStyle = '#000';
    ctx.font = '8.5px "Liberation Sans", Arial, sans-serif';
    ctx.textAlign = 'center';
    ctx.textBaseline = 'middle';
    gSites.forEach((s, i) => {
      const x0 = x.getPixelForValue(1 + i * gPerSite) - w / 2;
      const x1 = x.getPixelForValue((i + 1) * gPerSite) + w / 2;
      ctx.fillText(s, (x0 + x1) / 2, i % 2 === 1 ? 162.5 : 154.5);
    });
    ctx.restore();
  }
};

const gSeries = [
  ['myco', gMyco], ['pseudo', gPseudo], ['endo', gEndo], ['supYellow', gSupYellow], ['supGreen', gSupGreen]
];

new Chart(document.getElementById('chartG'), {
  type: 'bar',
  data: {
    labels: slotLabels(gSites, gPerSite),
    datasets: gSeries.map(([k, rows]) => ({
      label: k, data: withBlank(rows), backgroundColor: gColors[k],
      borderColor: '#1c1c1c', borderWidth: 0.6, barPercentage: 1, categoryPercentage: 1
    }))
  },
  options: {
    responsive: false,
    layout: { padding: { left: 0, top: 16, right: 12, bottom: 37.7 }, autoPadding: false },
    scales: {
      x: { display: false, stacked: true },
      y: {
        stacked: true, min: 0, max: 100,
        afterBuildTicks: useTicks(gYTicks), afterFit: fixWidth(30),
        border: { display: true, color: '#000' },
        grid: { drawOnChartArea: false, color: '#000', tickLength: 3 },
        ticks: { font: { size: 9 }, color: '#000', minRotation: 90, maxRotation: 90, crossAlign: 'center', padding: 1, autoSkip: false }
      }
    }
  },
  plugins: [gBand]
});

// ---------- legends ----------
const legendEl = document.getElementById('legend');
legendOrder.forEach((name, i) => {
  const y = 163 + i * 22.6;
  const sq = document.createElement('div');
  sq.className = 'sq';
  sq.style.cssText = 'left:657px;top:' + (y - 8.5) + 'px;width:17px;height:17px;background:' + familyColors[name];
  legendEl.appendChild(sq);
  const tx = document.createElement('div');
  tx.className = 'l';
  tx.style.cssText = 'left:680px;top:' + y + 'px;font-size:10.5px;transform:translateY(-50%) scaleX(0.85);transform-origin:left center';
  tx.textContent = name;
  legendEl.appendChild(tx);
});

const gLegendItems = [
  { x: 533, y: 682, colors: [gColors.endo], genus: 'Endozoicomonas', rest: ' ASV P1' },
  { x: 647, y: 682, colors: [gColors.myco], genus: 'Mycoplasma', rest: ' ASV P1' },
  { x: 533, y: 695, colors: [gColors.pseudo], genus: 'Pseudoalteromonas', rest: ' ASV P1' },
  { x: 657, y: 695, colors: [gColors.supYellow, gColors.supGreen], genus: '', rest: 'SUP05 cluster' }
];
const gLeg = document.getElementById('gLegend');
gLegendItems.forEach(it => {
  it.colors.forEach((c, j) => {
    const sq = document.createElement('div');
    sq.className = 'sq';
    sq.style.cssText = 'left:' + (it.x + j * 6) + 'px;top:' + (it.y - 3.5) + 'px;width:7px;height:7px;background:' + c;
    gLeg.appendChild(sq);
  });
  const tx = document.createElement('div');
  tx.className = 'l';
  tx.style.cssText = 'left:' + (it.x + 7 + it.colors.length * 6) + 'px;top:' + it.y + 'px;font-size:8.5px';
  if (it.genus) {
    const em = document.createElement('i');
    em.textContent = it.genus;
    tx.appendChild(em);
  }
  tx.appendChild(document.createTextNode(it.rest));
  gLeg.appendChild(tx);
});
</script>
</body>
</html>
